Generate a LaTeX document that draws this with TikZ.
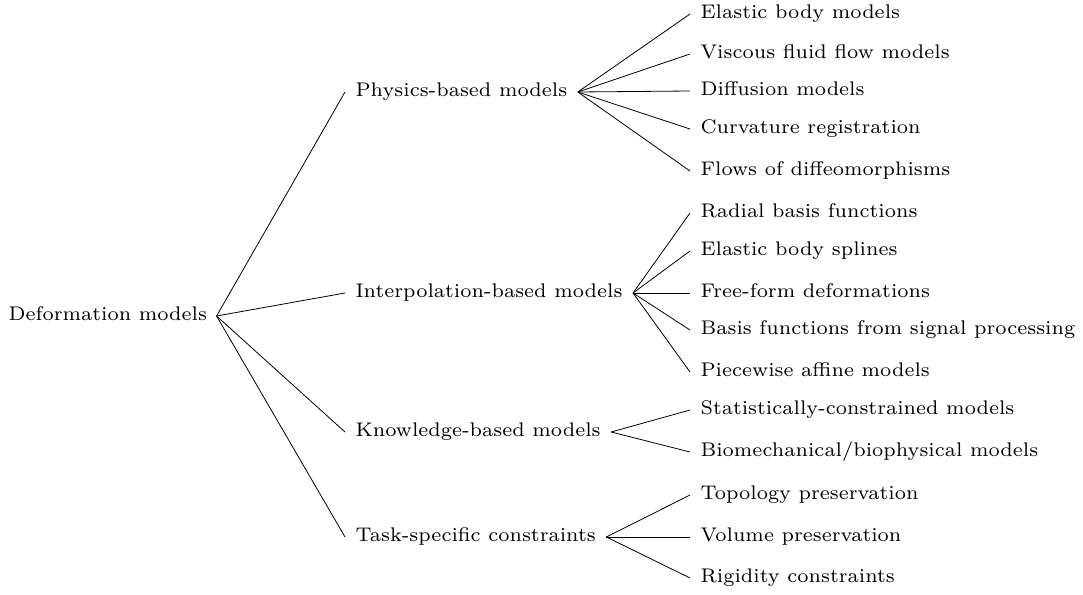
\documentclass[tikz,border=0pt]{standalone}
\begin{document}
\begin{tikzpicture}[x=1pt,y=-1pt,
  lbl/.style={anchor=west,inner sep=0pt,scale=2.82,font=\fontsize{7}{8}\selectfont,text height=4.9pt,text depth=2pt},
  edge/.style={line width=0.8pt}]
\useasboundingbox (0,0) rectangle (1083,594);
\node[lbl] (root) at (8,316) {Deformation models};
\node[lbl] (phys) at (355,92) {Physics-based models};
\node[lbl] (interp) at (355,293) {Interpolation-based models};
\node[lbl] (know) at (355,432) {Knowledge-based models};
\node[lbl] (task) at (355,537) {Task-specific constraints};
\node[lbl] (p1) at (700,14) {Elastic body models};
\node[lbl] (p2) at (700,54) {Viscous fluid flow models};
\node[lbl] (p3) at (700,91) {Diffusion models};
\node[lbl] (p4) at (700,129) {Curvature registration};
\node[lbl] (p5) at (700,171) {Flows of diffeomorphisms};
\node[lbl] (i1) at (700,213) {Radial basis functions};
\node[lbl] (i2) at (700,251) {Elastic body splines};
\node[lbl] (i3) at (700,293) {Free-form deformations};
\node[lbl] (i4) at (700,330) {Basis functions from signal processing};
\node[lbl] (i5) at (700,372) {Piecewise affine models};
\node[lbl] (k1) at (700,410) {Statistically-constrained models};
\node[lbl] (k2) at (700,452) {Biomechanical/biophysical models};
\node[lbl] (t1) at (700,495) {Topology preservation};
\node[lbl] (t2) at (700,537) {Volume preservation};
\node[lbl] (t3) at (700,578) {Rigidity constraints};
\coordinate (r0) at ([xshift=9]root.east);
\foreach \c in {phys,interp,know,task} \draw[edge] (r0) -- ([xshift=-10]\c.west);
\coordinate (ph0) at ([xshift=10]phys.east);
\foreach \c in {p1,p2,p3,p4,p5} \draw[edge] (ph0) -- ([xshift=-10]\c.west);
\coordinate (in0) at ([xshift=10]interp.east);
\foreach \c in {i1,i2,i3,i4,i5} \draw[edge] (in0) -- ([xshift=-10]\c.west);
\coordinate (kn0) at ([xshift=10]know.east);
\foreach \c in {k1,k2} \draw[edge] (kn0) -- ([xshift=-10]\c.west);
\coordinate (ta0) at ([xshift=10]task.east);
\foreach \c in {t1,t2,t3} \draw[edge] (ta0) -- ([xshift=-10]\c.west);
\end{tikzpicture}
\end{document}
